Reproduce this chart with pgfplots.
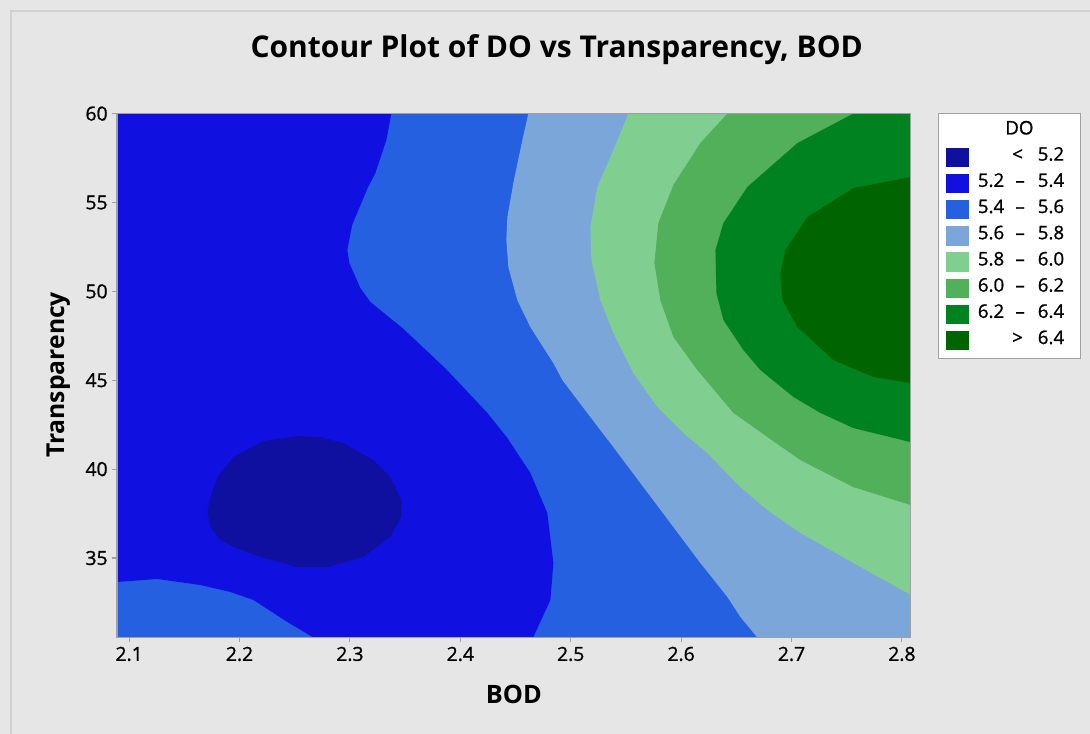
\documentclass[border=0pt]{standalone}
\usepackage{fontspec}
\setmainfont{Open Sans}
\newfontfamily\semi[FakeBold=1.1]{Open Sans}
\usepackage{pgfplots}
\pgfplotsset{compat=1.18}

\definecolor{bg}{HTML}{E6E6E6}
\definecolor{frm}{HTML}{A0A0A0}
\definecolor{cA}{HTML}{1010A0}
\definecolor{cB}{HTML}{1010E0}
\definecolor{cC}{HTML}{2460E0}
\definecolor{cD}{HTML}{7BA6DA}
\definecolor{cE}{HTML}{80CE90}
\definecolor{cF}{HTML}{52AF5A}
\definecolor{cG}{HTML}{008220}
\definecolor{cH}{HTML}{006400}

\newcommand\lgd[1]{#1\hspace*{7pt}}

\begin{document}
\begin{tikzpicture}
% page background, 1 px = 0.75pt
\begin{scope}[x=0.75pt,y=0.75pt]
\fill[bg] (0,0) rectangle (1090,734);
\draw[line width=0.8pt, black!18] (11,0) -- (11,723) -- (1090,723);
\end{scope}

\begin{axis}[
  at={(87.75pt,72.4pt)}, anchor=south west,
  scale only axis, width=595.3pt, height=392.9pt,
  xmin=2.089, xmax=2.808, ymin=30.53, ymax=60,
  axis on top,
  axis background/.style={fill=cC},
  axis line style={frm, line width=1.1pt},
  xtick={2.1,2.2,2.3,2.4,2.5,2.6,2.7,2.8},
  xticklabels={2.1,2.2,2.3,2.4,2.5,2.6,2.7,2.8},
  ytick={35,40,45,50,55,60},
  tick align=outside, xtick pos=bottom, ytick pos=left,
  major tick length=3.5pt,
  tick style={frm, line width=0.8pt},
  /pgf/number format/assume math mode=true,
  tick label style={font=\semi\fontsize{14.5}{17}\selectfont},
  title={Contour Plot of DO vs Transparency, BOD},
  title style={at={(axis description cs:0.554,1.106)}, anchor=center,
    font=\bfseries\fontsize{22.5}{27}\selectfont},
  xlabel={BOD},
  xlabel style={at={(axis description cs:0.5,-0.1094)}, anchor=center,
    font=\bfseries\fontsize{19}{22}\selectfont},
  ylabel={Transparency},
  ylabel style={at={(axis description cs:-0.0739,0.501)}, anchor=center,
    font=\bfseries\fontsize{18.5}{22}\selectfont},
  legend style={at={(1.0344,1.0012)}, anchor=north west,
    draw=frm, fill=white, line width=0.8pt,
    font=\semi\fontsize{14}{16}\selectfont,
    inner xsep=5.25pt, inner ysep=6pt,
    row sep=5.15pt, column sep=7pt,
    nodes={inner sep=0pt, text height=9.7pt, text depth=4.8pt}},
  legend cell align=right,
  legend image code/.code={\fill[#1, draw=none] (0pt,-7.25pt) rectangle (17.25pt,7.25pt);},
]

% 5.2 - 5.4
\addplot[fill=cB, draw=none, forget plot] coordinates {
 (2.08,60.2) (2.3375,60.2) (2.3375,60) (2.333,58.51) (2.323,56.65) (2.316,55.81)
 (2.302,53.73) (2.2976,52.32) (2.2995,51.59) (2.3094,50.19) (2.3185,49.40)
 (2.3475,47.94) (2.3755,46.31) (2.388,45.57) (2.4245,43.16) (2.4426,41.75)
 (2.4635,39.78) (2.4788,37.53) (2.4843,34.72) (2.4816,32.64) (2.466,30.53)
 (2.463,30.4) (2.268,30.4) (2.2668,30.53) (2.2433,31.40) (2.2125,32.64)
 (2.1917,33.09) (2.1645,33.48) (2.1255,33.82) (2.089,33.65) (2.08,33.64)
} -- cycle;

% < 5.2
\addplot[fill=cA, draw=none, forget plot] coordinates {
 (2.2524,41.86) (2.2216,41.58) (2.1944,40.68) (2.18,39.56) (2.1736,38.43)
 (2.1708,37.59) (2.1736,36.74) (2.1826,36.01) (2.1944,35.62) (2.2189,35.06)
 (2.2524,34.49) (2.2796,34.49) (2.3122,35.06) (2.3366,36.18) (2.3466,37.31)
 (2.3466,38.26) (2.3366,39.56) (2.3212,40.51) (2.294,41.47) (2.2732,41.81)
} -- cycle;

% 5.6 - 5.8
\addplot[fill=cD, draw=none, forget plot] coordinates {
 (2.4616,60.2) (2.4616,60) (2.4562,58.51) (2.448,56.09) (2.4426,54.18)
 (2.4417,52.89) (2.4435,51.37) (2.4516,49.51) (2.4634,47.99) (2.4842,45.97)
 (2.4924,45.01) (2.515,43.16) (2.5386,41.24) (2.5658,38.99) (2.593,36.74)
 (2.6174,34.72) (2.6419,32.81) (2.6537,31.68) (2.669,30.53) (2.671,30.4)
 (2.82,30.4) (2.82,60.2)
} -- cycle;

% 5.8 - 6.0
\addplot[fill=cE, draw=none, forget plot] coordinates {
 (2.5522,60.2) (2.5522,60) (2.5386,57.95) (2.5241,55.87) (2.5178,53.62)
 (2.5187,51.76) (2.5268,49.51) (2.5386,47.65) (2.5567,45.40) (2.5785,43.49)
 (2.602,42.03) (2.6237,40.91) (2.6536,38.99) (2.6781,37.70) (2.708,36.41)
 (2.756,34.72) (2.808,32.92) (2.82,32.85) (2.82,60.2)
} -- cycle;

% 6.0 - 6.2
\addplot[fill=cF, draw=none, forget plot] coordinates {
 (2.6419,60.2) (2.6419,60) (2.6174,58.34) (2.593,55.98) (2.5794,53.84)
 (2.5758,51.59) (2.5812,49.51) (2.593,47.43) (2.6148,45.57) (2.6474,43.16)
 (2.6781,41.81) (2.708,40.51) (2.756,38.99) (2.808,37.98) (2.82,37.94)
 (2.82,60.2)
} -- cycle;

% 6.2 - 6.4
\addplot[fill=cG, draw=none, forget plot] coordinates {
 (2.756,60.2) (2.756,60) (2.7053,58.34) (2.66,55.87) (2.6383,53.84)
 (2.6311,52.32) (2.632,49.90) (2.6383,48.39) (2.6564,46.70) (2.6718,45.57)
 (2.7017,44.06) (2.7262,43.16) (2.756,42.31) (2.808,41.52) (2.82,41.50)
 (2.82,60.2)
} -- cycle;

% > 6.4
\addplot[fill=cH, draw=none, forget plot] coordinates {
 (2.82,56.5) (2.808,56.43) (2.756,55.81) (2.7143,54.18) (2.6944,52.32)
 (2.6899,51.03) (2.6917,49.51) (2.7053,47.99) (2.7379,46.14) (2.7741,45.18)
 (2.808,44.84) (2.82,44.82)
} -- cycle;

\addlegendimage{empty legend}
\addlegendentry{DO\hspace*{30pt}}
\addlegendimage{fill=cA}
\addlegendentry{\lgd{<\hspace{0.8em}5.2}}
\addlegendimage{fill=cB}
\addlegendentry{\lgd{5.2\hspace{0.6em}–\hspace{0.7em}5.4}}
\addlegendimage{fill=cC}
\addlegendentry{\lgd{5.4\hspace{0.6em}–\hspace{0.7em}5.6}}
\addlegendimage{fill=cD}
\addlegendentry{\lgd{5.6\hspace{0.6em}–\hspace{0.7em}5.8}}
\addlegendimage{fill=cE}
\addlegendentry{\lgd{5.8\hspace{0.6em}–\hspace{0.7em}6.0}}
\addlegendimage{fill=cF}
\addlegendentry{\lgd{6.0\hspace{0.6em}–\hspace{0.7em}6.2}}
\addlegendimage{fill=cG}
\addlegendentry{\lgd{6.2\hspace{0.6em}–\hspace{0.7em}6.4}}
\addlegendimage{fill=cH}
\addlegendentry{\lgd{>\hspace{0.8em}6.4}}
\end{axis}

\pgfresetboundingbox
\useasboundingbox (0,0) rectangle (817.5pt,550.5pt);
\end{tikzpicture}
\end{document}
